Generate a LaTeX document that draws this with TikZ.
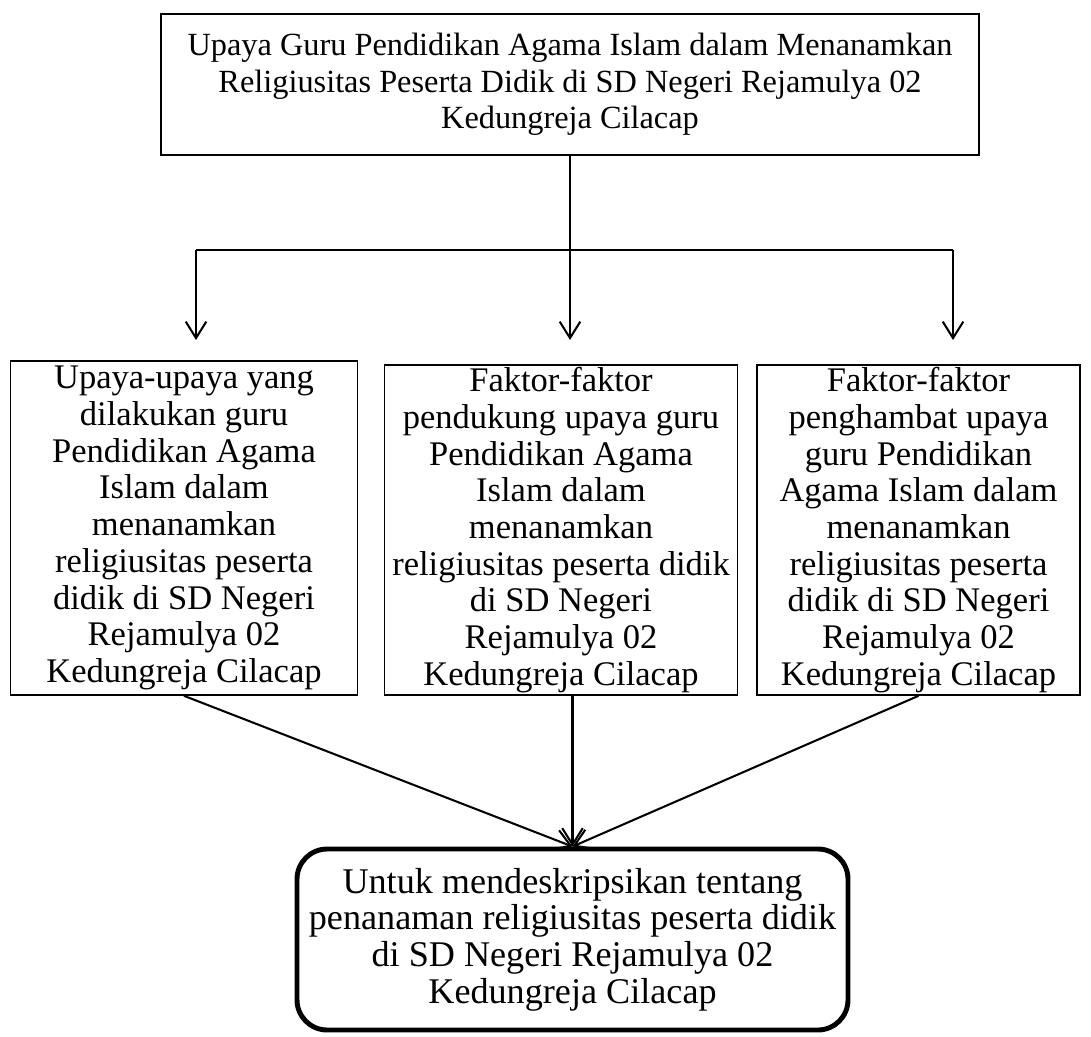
\documentclass[tikz,border=0pt]{standalone}
\usepackage{fontspec}
\setmainfont{Liberation Serif}
\usetikzlibrary{arrows.meta}

\begin{document}
\begin{tikzpicture}[x=0.365pt,y=-0.365pt,
    kotak/.style={draw, line width=0.6pt, align=center, inner sep=0pt,
      font=\fontsize{12.6}{13.4}\selectfont},
    panah/.style={line width=0.75pt, -{Straight Barb[length=6pt,width=7.5pt,line width=0.75pt]}},
    garis/.style={line width=0.75pt}]

  \useasboundingbox (0,0) rectangle (1091,1036);

  \node[kotak, font=\fontsize{11.8}{13.4}\selectfont,
        minimum width=818*0.365pt, minimum height=141*0.365pt] (judul) at (570,84.5)
    {Upaya Guru Pendidikan Agama Islam dalam Menanamkan\\
     Religiusitas Peserta Didik di SD Negeri Rejamulya 02\\
     Kedungreja Cilacap};

  \node[kotak, minimum width=347*0.365pt, minimum height=334*0.365pt] (upaya) at (184,528)
    {Upaya-upaya yang\\ dilakukan guru\\ Pendidikan Agama\\ Islam dalam\\ menanamkan\\
     religiusitas peserta\\ didik di SD Negeri\\ Rejamulya 02\\ Kedungreja Cilacap};
  \node[kotak, minimum width=353*0.365pt, minimum height=330*0.365pt] (pendukung) at (561,530)
    {Faktor-faktor\\ pendukung upaya guru\\ Pendidikan Agama\\ Islam dalam\\ menanamkan\\
     religiusitas peserta didik\\ di SD Negeri\\ Rejamulya 02\\ Kedungreja Cilacap};
  \node[kotak, minimum width=323*0.365pt, minimum height=330*0.365pt] (penghambat) at (918.5,530)
    {Faktor-faktor\\ penghambat upaya\\ guru Pendidikan\\ Agama Islam dalam\\ menanamkan\\
     religiusitas peserta\\ didik di SD Negeri\\ Rejamulya 02\\ Kedungreja Cilacap};

  \node[kotak, font=\fontsize{13.2}{13.4}\selectfont, line width=1.8pt, rounded corners=11pt,
        minimum width=551*0.365pt, minimum height=181*0.365pt] (tujuan) at (572.5,939.5)
    {Untuk mendeskripsikan tentang\\ penanaman religiusitas peserta didik\\
     di SD Negeri Rejamulya 02\\ Kedungreja Cilacap};

  \coordinate (cabangKiri) at (196,250);
  \coordinate (cabangKanan) at (953,250);
  \coordinate (ujungKiri) at (196,340);
  \coordinate (ujungTengah) at (570,340);
  \coordinate (ujungKanan) at (953,340);

  \draw[garis] (cabangKiri) -- (cabangKanan);
  \draw[panah] (judul.south) -- (ujungTengah);
  \draw[panah] (cabangKiri) -- (ujungKiri);
  \draw[panah] (cabangKanan) -- (ujungKanan);

  \draw[panah] (upaya.south) -- (tujuan.north);
  \draw[panah] (tujuan.north |- pendukung.south) -- (tujuan.north);
  \draw[panah] (penghambat.south) -- (tujuan.north);
\end{tikzpicture}
\end{document}
